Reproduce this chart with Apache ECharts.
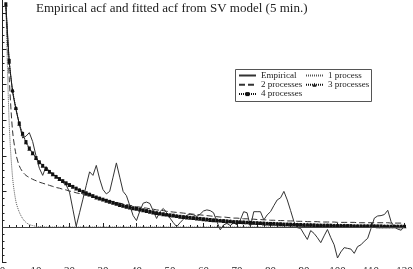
<!DOCTYPE html>
<html>
<head>
<meta charset="utf-8">
<script src="https://cdn.jsdelivr.net/npm/echarts@6/dist/echarts.min.js"></script>
<style>
  html, body { margin: 0; padding: 0; background: #fff; }
  #main { width: 413px; height: 269px; }
</style>
</head>
<body>
<div id="main"></div>
<script>
// lag 1..120 -> x positions
var lags = [];
for (var i = 1; i <= 120; i++) lags.push(i);

// empirical acf
var empirical = [
  0.625, 0.465, 0.380, 0.330, 0.290, 0.250, 0.255, 0.265, 0.240, 0.200,
  0.165, 0.145, 0.170, 0.155, 0.150, 0.140, 0.135, 0.125, 0.118, 0.098,
  0.050, 0.002, 0.040, 0.078, 0.117, 0.155, 0.145, 0.173, 0.135, 0.105,
  0.093, 0.100, 0.140, 0.180, 0.140, 0.100, 0.088, 0.060, 0.032, 0.018,
  0.045, 0.067, 0.070, 0.066, 0.045, 0.024, 0.043, 0.052, 0.040, 0.025,
  0.012, 0.001, 0.012, 0.022, 0.033, 0.036, 0.034, 0.030, 0.036, 0.045,
  0.048, 0.046, 0.040, 0.015, -0.008, 0.006, 0.010, 0.004, 0.012, 0.006,
  0.020, 0.043, 0.040, 0.001, 0.043, 0.043, 0.043, 0.020, 0.034, 0.043,
  0.060, 0.076, 0.082, 0.100, 0.076, 0.046, 0.015, -0.002, -0.004, -0.020,
  -0.035, -0.010, -0.018, -0.030, -0.044, -0.025, -0.007, -0.030, -0.050, -0.087,
  -0.070, -0.058, -0.060, -0.062, -0.074, -0.055, -0.050, -0.040, -0.032, -0.004,
  0.025, 0.031, 0.032, 0.035, 0.047, 0.015, 0.000, -0.006, -0.009, 0.004
];

// 1 process fit
var oneProc = [
  0.625, 0.290, 0.140, 0.072, 0.042, 0.024, 0.013, 0.007, 0.004, 0.002,
  0.001, 0.001, 0, 0, 0, 0, 0, 0, 0, 0,
  0, 0, 0, 0, 0, 0, 0, 0, 0, 0, 0, 0, 0, 0, 0, 0, 0, 0, 0, 0,
  0, 0, 0, 0, 0, 0, 0, 0, 0, 0, 0, 0, 0, 0, 0, 0, 0, 0, 0, 0,
  0, 0, 0, 0, 0, 0, 0, 0, 0, 0, 0, 0, 0, 0, 0, 0, 0, 0, 0, 0,
  0, 0, 0, 0, 0, 0, 0, 0, 0, 0, 0, 0, 0, 0, 0, 0, 0, 0, 0, 0,
  0, 0, 0, 0, 0, 0, 0, 0, 0, 0, 0, 0, 0, 0, 0, 0, 0, 0, 0, 0
];

// 2 processes fit
var twoProc = [
  0.625, 0.420, 0.270, 0.205, 0.172, 0.155, 0.145, 0.139, 0.134, 0.130,
  0.126, 0.123, 0.120, 0.117, 0.114, 0.111, 0.109, 0.106, 0.104, 0.101,
  0.099, 0.096, 0.094, 0.091, 0.089, 0.086, 0.084, 0.082, 0.080, 0.077,
  0.075, 0.073, 0.071, 0.069, 0.067, 0.065, 0.063, 0.061, 0.059, 0.057,
  0.056, 0.054, 0.053, 0.051, 0.050, 0.048, 0.047, 0.046, 0.044, 0.043,
  0.042, 0.041, 0.040, 0.039, 0.038, 0.037, 0.036, 0.035, 0.034, 0.033,
  0.032, 0.031, 0.030, 0.029, 0.028, 0.028, 0.027, 0.026, 0.025, 0.025,
  0.024, 0.023, 0.023, 0.022, 0.022, 0.021, 0.021, 0.020, 0.020, 0.019,
  0.019, 0.018, 0.018, 0.018, 0.017, 0.017, 0.017, 0.016, 0.016, 0.016,
  0.015, 0.015, 0.015, 0.015, 0.014, 0.014, 0.014, 0.014, 0.014, 0.013,
  0.013, 0.013, 0.013, 0.013, 0.013, 0.012, 0.012, 0.012, 0.012, 0.012,
  0.012, 0.012, 0.012, 0.012, 0.012, 0.011, 0.011, 0.011, 0.011, 0.011
];

// 3 processes fit
var threeProc = [
  0.625, 0.465, 0.385, 0.335, 0.290, 0.262, 0.238, 0.220, 0.207, 0.194,
  0.182, 0.172, 0.163, 0.155, 0.148, 0.141, 0.135, 0.129, 0.123, 0.118,
  0.113, 0.108, 0.104, 0.099, 0.095, 0.091, 0.087, 0.083, 0.080, 0.077,
  0.074, 0.071, 0.068, 0.065, 0.062, 0.060, 0.057, 0.055, 0.053, 0.051,
  0.049, 0.047, 0.045, 0.043, 0.041, 0.039, 0.038, 0.036, 0.035, 0.033,
  0.032, 0.031, 0.029, 0.028, 0.027, 0.026, 0.025, 0.024, 0.023, 0.022,
  0.021, 0.020, 0.019, 0.019, 0.018, 0.017, 0.016, 0.016, 0.015, 0.014,
  0.014, 0.013, 0.013, 0.012, 0.012, 0.011, 0.011, 0.010, 0.010, 0.009,
  0.009, 0.009, 0.008, 0.008, 0.008, 0.007, 0.007, 0.007, 0.006, 0.006,
  0.006, 0.006, 0.005, 0.005, 0.005, 0.005, 0.005, 0.004, 0.004, 0.004,
  0.004, 0.004, 0.003, 0.003, 0.003, 0.003, 0.003, 0.003, 0.003, 0.003,
  0.003, 0.002, 0.002, 0.002, 0.002, 0.002, 0.002, 0.002, 0.002, 0.002
];

// 4 processes fit (almost on top of the 3 process one)
var fourProc = [
  0.627, 0.468, 0.382, 0.333, 0.292, 0.263, 0.240, 0.222, 0.208, 0.195,
  0.183, 0.173, 0.164, 0.156, 0.149, 0.142, 0.136, 0.130, 0.124, 0.119,
  0.114, 0.109, 0.104, 0.100, 0.096, 0.092, 0.088, 0.084, 0.081, 0.078,
  0.075, 0.072, 0.069, 0.066, 0.063, 0.060, 0.058, 0.056, 0.054, 0.052,
  0.050, 0.048, 0.046, 0.044, 0.042, 0.040, 0.038, 0.037, 0.035, 0.034,
  0.033, 0.031, 0.030, 0.029, 0.028, 0.027, 0.026, 0.025, 0.024, 0.023,
  0.022, 0.021, 0.020, 0.019, 0.018, 0.018, 0.017, 0.016, 0.015, 0.015,
  0.014, 0.014, 0.013, 0.013, 0.012, 0.012, 0.011, 0.011, 0.010, 0.010,
  0.010, 0.009, 0.009, 0.008, 0.008, 0.008, 0.007, 0.007, 0.007, 0.006,
  0.006, 0.006, 0.006, 0.005, 0.005, 0.005, 0.005, 0.005, 0.004, 0.004,
  0.004, 0.004, 0.004, 0.004, 0.003, 0.003, 0.003, 0.003, 0.003, 0.003,
  0.003, 0.003, 0.003, 0.002, 0.002, 0.002, 0.002, 0.002, 0.002, 0.002
];

var xTicks = { min: 0, max: 120, step: 10 };
var yTicks = { min: -0.1, max: 0.7, step: 0.1 };

function pairs(vals) {
  var out = [];
  for (var i = 0; i < lags.length; i++) out.push([lags[i], vals[i]]);
  return out;
}

var serif = 'Liberation Serif';
var ink = '#222';
var noMark = { opacity: 0 };   // legend entries of plain lines: no marker

var legendCommon = {
  orient: 'vertical',
  top: 71,
  itemWidth: 17, itemHeight: 5, itemGap: 0.3,
  padding: 0,
  textStyle: { fontFamily: serif, fontSize: 9, color: ink, lineHeight: 9 }
};

var chart = echarts.init(document.getElementById('main'), null, { renderer: 'canvas' });

var option = {
  animation: false,
  backgroundColor: '#fff',
  title: {
    text: 'Empirical acf and fitted acf from SV model (5 min.)',
    left: 36,
    top: 2,
    padding: 0,
    textStyle: { fontFamily: serif, fontSize: 13, fontWeight: 'normal', color: ink }
  },
  legend: [
    Object.assign({}, legendCommon, {
      left: 238,
      data: [
        { name: 'Empirical', itemStyle: noMark },
        { name: '2 processes', itemStyle: noMark },
        '4 processes'
      ]
    }),
    Object.assign({}, legendCommon, {
      left: 305,
      data: [
        { name: '1 process', itemStyle: noMark },
        '3 processes'
      ]
    })
  ],
  graphic: [{
    type: 'rect',
    shape: { x: 235.5, y: 69.5, width: 136, height: 32 },
    style: { fill: 'transparent', stroke: '#555', lineWidth: 1 },
    silent: true
  }],
  grid: {
    left: 2.5, right: 8.5, top: -22.2, bottom: 6.4,
    outerBoundsMode: 'none',
    containLabel: false
  },
  xAxis: {
    type: 'value',
    min: xTicks.min, max: xTicks.max, interval: xTicks.step,
    axisLine: { show: true, lineStyle: { color: ink, width: 1 } },
    axisTick: { show: true, inside: true, length: 4, lineStyle: { color: ink } },
    minorTick: { show: true, splitNumber: 5, length: 2, lineStyle: { color: ink } },
    axisLabel: { show: true, margin: 3, fontFamily: serif, fontSize: 11, color: ink },
    splitLine: { show: false }
  },
  yAxis: {
    type: 'value',
    min: yTicks.min, max: yTicks.max, interval: yTicks.step,
    axisLine: { show: true, onZero: false, lineStyle: { color: ink, width: 1 } },
    axisTick: { show: true, inside: true, length: 4, lineStyle: { color: ink } },
    minorTick: { show: true, splitNumber: 5, length: 2, lineStyle: { color: ink } },
    axisLabel: { show: false },
    splitLine: { show: false }
  },
  series: [
    {
      name: 'Empirical',
      type: 'line',
      data: pairs(empirical),
      symbol: 'none',
      lineStyle: { color: '#333', width: 1 },
      itemStyle: { color: '#333' },
      z: 3,
      markLine: {
        silent: true,
        symbol: 'none',
        label: { show: false },
        lineStyle: { color: '#444', width: 1, type: 'solid' },
        data: [{ yAxis: 0 }]
      }
    },
    {
      name: '1 process',
      type: 'line',
      data: pairs(oneProc),
      symbol: 'none',
      smooth: 0.3,
      lineStyle: { color: '#555', width: 1, type: [1, 1] },
      itemStyle: { color: '#555' },
      z: 2
    },
    {
      name: '2 processes',
      type: 'line',
      data: pairs(twoProc),
      symbol: 'none',
      smooth: 0.3,
      lineStyle: { color: '#333', width: 1, type: [6, 3] },
      itemStyle: { color: '#333' },
      z: 2
    },
    {
      name: '3 processes',
      type: 'line',
      data: pairs(threeProc),
      symbol: 'triangle',
      symbolSize: 4,
      showAllSymbol: true,
      smooth: 0.3,
      lineStyle: { color: '#111', width: 1, type: [1, 1] },
      itemStyle: { color: '#111' },
      z: 4
    },
    {
      name: '4 processes',
      type: 'line',
      data: pairs(fourProc),
      symbol: 'rect',
      symbolSize: 3,
      showAllSymbol: true,
      smooth: 0.3,
      lineStyle: { color: '#111', width: 1, type: [1, 1] },
      itemStyle: { color: '#111' },
      z: 4
    }
  ]
};

chart.setOption(option);
</script>
</body>
</html>
